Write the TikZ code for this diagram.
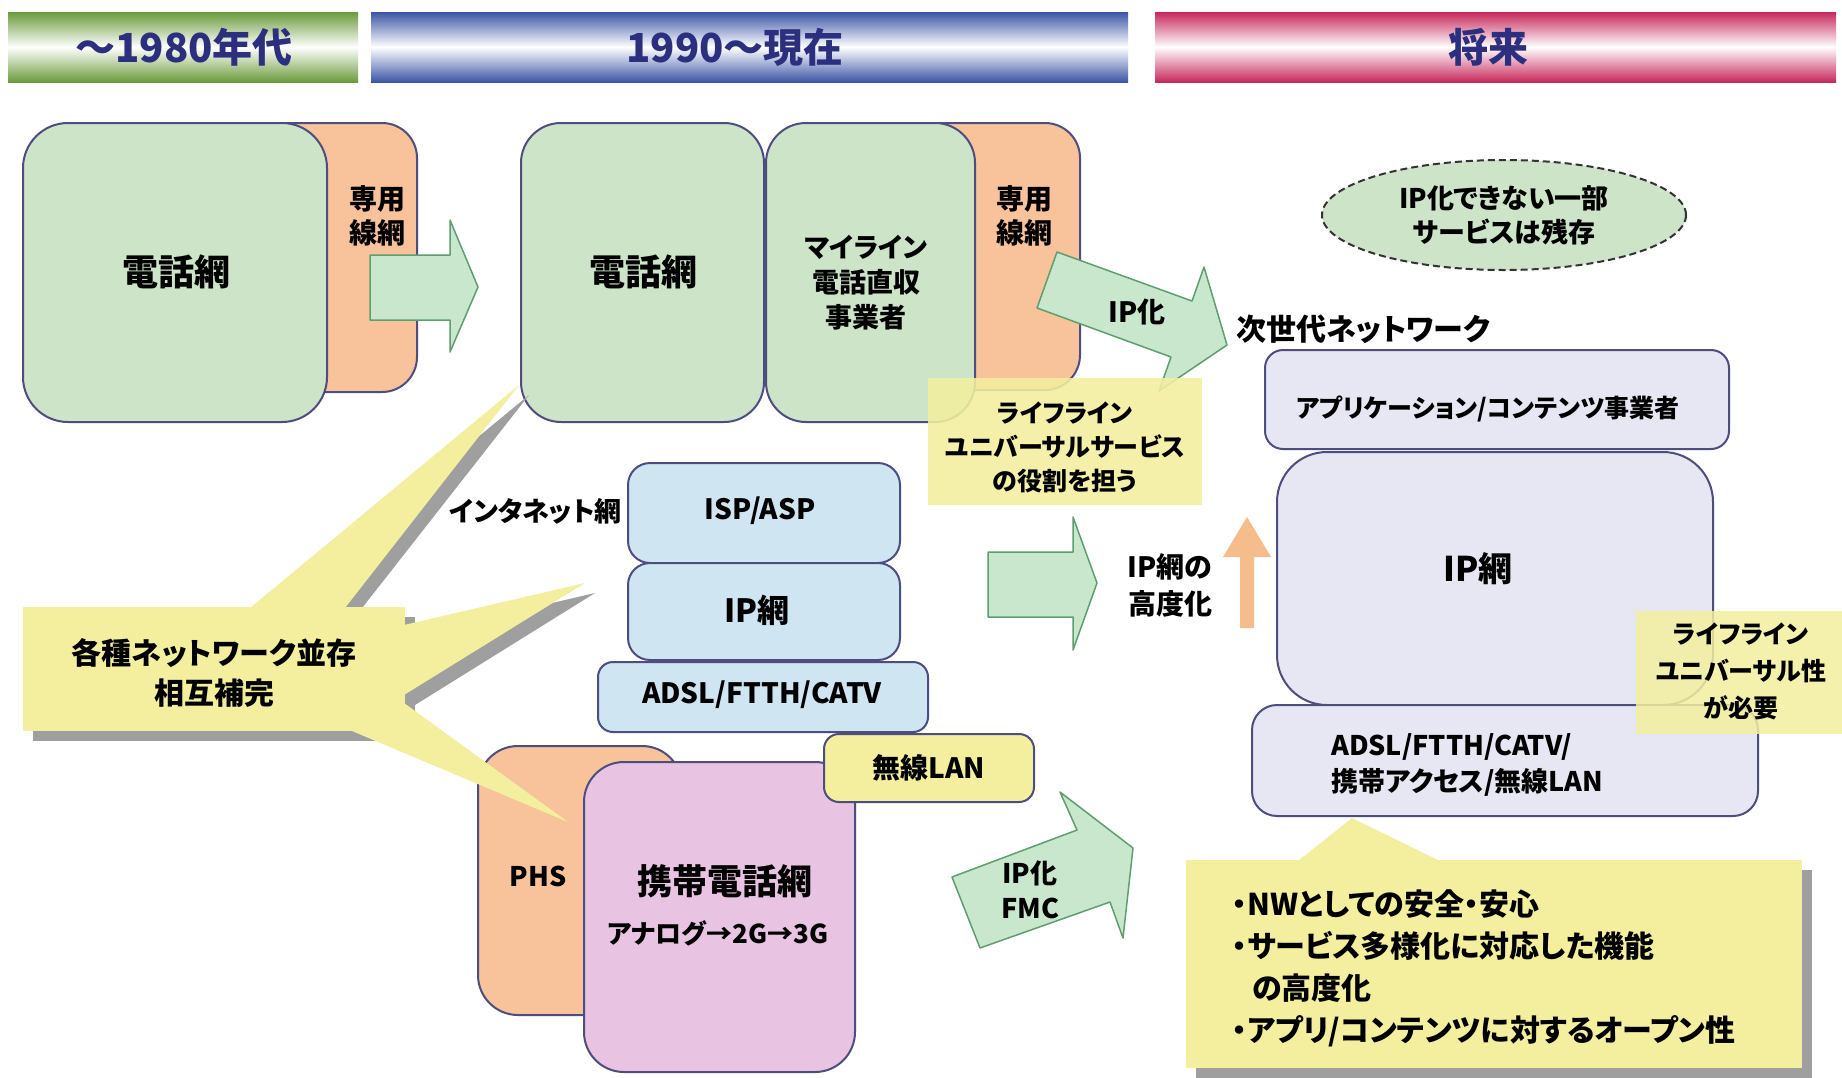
\documentclass[tikz,border=0pt]{standalone}
\usepackage{fontspec}
\newfontfamily\jp{Noto Sans CJK JP}[RawFeature=+palt]
\usetikzlibrary{shapes.geometric}
\definecolor{bordc}{HTML}{4D4D80}
\definecolor{greenbox}{HTML}{CDE4C9}
\definecolor{orangebox}{HTML}{F8C39A}
\definecolor{pinkbox}{HTML}{E8C3E2}
\definecolor{bluebox}{HTML}{CFE5F2}
\definecolor{lavbox}{HTML}{E7E7F4}
\definecolor{yel}{HTML}{F3EF9F}
\definecolor{shadowc}{HTML}{9F9F9F}
\definecolor{arrowfill}{HTML}{C9E7CC}
\definecolor{arrowline}{HTML}{5E9E6F}
\definecolor{orangearrow}{HTML}{F6BD8C}
\definecolor{navy}{HTML}{2C2F7E}
\definecolor{hgreen}{HTML}{6C9A3C}
\definecolor{hblue}{HTML}{3D55A6}
\definecolor{hred}{HTML}{C7285C}
\begin{document}
\begin{tikzpicture}[x=1pt,y=-1pt,
  fs/.style 2 args={font=\jp\bfseries\fontsize{#1}{#2}\selectfont},
  lbl/.style={align=center,inner sep=0pt,text=black},
  netbox/.style={draw=bordc,line width=2pt},
  barshade/.style={top color=#1,bottom color=#1,middle color=white},
  bigarrow/.style={fill=arrowfill,draw=arrowline,line width=1.5pt,line join=round},
  callout/.style={fill=yel},
  shadowfill/.style={fill=shadowc}]
\useasboundingbox (0,0) rectangle (1842,1077);
\fill[white] (0,0) rectangle (1842,1077);

% ---------- header bars ----------
\shade[barshade=hgreen] (8,12) rectangle (358,82);
\shade[barshade=hblue] (371,12) rectangle (1128,82);
\shade[barshade=hred] (1155,12) rectangle (1836,82);
\node[lbl,fs={40}{44},text=navy] (h1) at (184,47) {〜1980年代};
\node[lbl,fs={40}{44},text=navy] (h2) at (735,47) {1990〜現在};
\node[lbl,fs={40}{44},text=navy] (h3) at (1488,47) {将来};

% ---------- 1980s ----------
\draw[netbox,fill=orangebox,rounded corners=35pt] (230,123) rectangle (417,392);
\draw[netbox,fill=greenbox,rounded corners=45pt] (23,123) rectangle (327,422);
\node[lbl,fs={28}{34}] (sen1) at (377,216) {専用\\線網};
\node[lbl,fs={36}{40}] (den1) at (176,272) {電話網};
\draw[bigarrow] (370,255) -- (450,255) -- (450,220) -- (478,287) -- (450,352) -- (450,320) -- (370,320) -- cycle;

% ---------- 1990s top ----------
\draw[netbox,fill=orangebox,rounded corners=35pt] (900,123) rectangle (1080,390);
\draw[netbox,fill=greenbox,rounded corners=40pt] (521,123) rectangle (764,422);
\draw[netbox,fill=greenbox,rounded corners=40pt] (766,123) rectangle (975,422);
\node[lbl,fs={36}{40}] (den2) at (643,272) {電話網};
\node[lbl,fs={27}{35}] (myline) at (866,283) {マイライン\\電話直収\\事業者};
\node[lbl,fs={28}{34}] (sen2) at (1024,216) {専用\\線網};

% ---------- internet stack ----------
\draw[netbox,fill=bluebox,rounded corners=22pt] (628,463) rectangle (900,563);
\draw[netbox,fill=bluebox,rounded corners=22pt] (628,563) rectangle (900,660);
\draw[netbox,fill=bluebox,rounded corners=15pt] (598,662) rectangle (928,732);
\node[lbl,fs={27}{32},anchor=east] (inet) at (622,511) {インタネット網};
\node[lbl,fs={28}{32}] (isp) at (760,511) {ISP/ASP};
\node[lbl,fs={32}{36}] (ipm) at (757,610) {IP網};
\node[lbl,fs={28}{32}] (adsl1) at (762,695) {ADSL/FTTH/CATV};

% ---------- mobile ----------
\draw[netbox,fill=orangebox,rounded corners=40pt] (478,746) rectangle (682,1015);
\draw[netbox,fill=pinkbox,rounded corners=40pt] (584,762) rectangle (855,1072);
\draw[netbox,fill=yel,rounded corners=15pt] (824,734) rectangle (1034,802);
\node[lbl,fs={27}{32}] (phs) at (538,876) {PHS};
\node[lbl,fs={35}{40}] (keitai) at (725,881) {携帯電話網};
\node[lbl,fs={26}{30}] (gen) at (718,933) {アナログ→2G→3G};
\node[lbl,fs={28}{32}] (wlan1) at (929,768) {無線LAN};

% ---------- left callout ----------
\begin{scope}[shift={(10,10)}]
  \fill[shadowfill] (23,607) rectangle (405,731);
  \fill[shadowfill] (250,607) -- (519,385) -- (345,607) -- cycle;
  \fill[shadowfill] (405,625) -- (585,583) -- (405,695) -- cycle;
\end{scope}
\fill[callout] (23,607) rectangle (405,731);
\fill[callout] (250,608) -- (519,385) -- (345,608) -- cycle;
\fill[callout] (404,625) -- (585,583) -- (404,695) -- cycle;
\fill[callout] (404,703) -- (568,822) -- (352,731) -- cycle;
\node[lbl,fs={30}{40}] (kaku) at (214,673) {各種ネットワーク並存\\相互補完};

% ---------- IP化 diagonal arrow + lifeline box ----------
\draw[bigarrow] (1057,252) -- (1192,301) -- (1204,267) -- (1227,345) -- (1159,391) -- (1171,357) -- (1037,308) -- cycle;
\node[lbl,fs={28}{32}] (ipka1) at (1137,312) {IP化};
\fill[yel,opacity=0.88] (928,378) rectangle (1202,505);
\node[lbl,fs={25}{34}] (life1) at (1065,447) {ライフライン\\ユニバーサルサービス\\の役割を担う};

% ---------- middle arrows ----------
\draw[bigarrow] (988,552) -- (1073,552) -- (1073,517) -- (1097,583) -- (1073,650) -- (1073,617) -- (988,617) -- cycle;
\node[lbl,fs={28}{37}] (kodo) at (1170,585) {IP網の\\高度化};
\fill[orangearrow] (1240,628) -- (1240,557) -- (1223,557) -- (1247,517) -- (1271,557) -- (1254,557) -- (1254,628) -- cycle;

% ---------- ellipse ----------
\node[ellipse,draw=black!80,line width=2pt,dash pattern=on 7pt off 4pt,fill=greenbox,minimum width=364pt,minimum height=110pt,inner sep=0pt] (remain) at (1504,215) {};
\node[lbl,fs={27}{34}] (remaint) at (1504,215) {IP化できない一部\\サービスは残存};

% ---------- next generation network ----------
\node[lbl,fs={30}{34},anchor=west] (ngn) at (1236,329) {次世代ネットワーク};
\draw[netbox,fill=lavbox,rounded corners=18pt] (1265,350) rectangle (1729,449);
\draw[netbox,fill=lavbox,rounded corners=50pt] (1277,452) rectangle (1713,705);
\draw[netbox,fill=lavbox,rounded corners=25pt] (1252,705) rectangle (1758,816);
\node[lbl,fs={25}{30}] (app) at (1488,409) {アプリケーション/コンテンツ事業者};
\node[lbl,fs={34}{38}] (ipm2) at (1478,569) {IP網};
\node[lbl,fs={27}{36},anchor=west,align=left] (adsl2) at (1331,765) {ADSL/FTTH/CATV/\\携帯アクセス/無線LAN};
\fill[yel,opacity=0.85] (1636,611) rectangle (1842,734);
\node[lbl,fs={25}{37}] (life2) at (1741,671) {ライフライン\\ユニバーサル性\\が必要};

% ---------- bottom callout ----------
\fill[shadowfill] (1196,870) rectangle (1812,1078);
\fill[callout] (1186,860) rectangle (1802,1068);
\fill[callout] (1298,861) -- (1352,818) -- (1440,861) -- cycle;
\node[lbl,fs={30}{42},anchor=west,align=left] (req) at (1232,968) {・NWとしての安全・安心\\・サービス多様化に対応した機能\\\hspace*{20pt}の高度化\\・アプリ/コンテンツに対するオープン性};

% ---------- IP化 FMC arrow ----------
\draw[bigarrow] (952,877) -- (1077,830) -- (1060,792) -- (1133,848) -- (1123,938) -- (1110,902) -- (980,948) -- cycle;
\node[lbl,fs={27}{35}] (fmc) at (1030,890) {IP化\\FMC};
\end{tikzpicture}
\end{document}
